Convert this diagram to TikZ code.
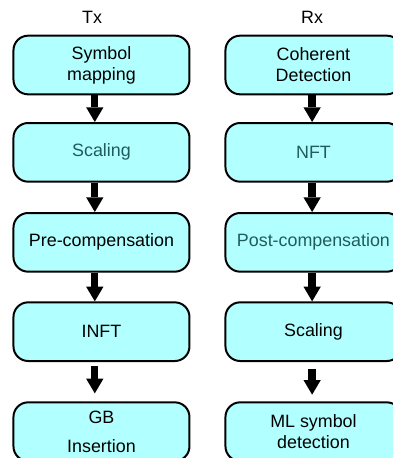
\documentclass[tikz,border=0pt]{standalone}
\usepackage{fontspec}
\setmainfont{Liberation Sans}
\usetikzlibrary{positioning, arrows.meta, shapes}
\definecolor{boxcyan}{RGB}{178,255,255}
\definecolor{darkteal}{RGB}{32,92,92}
\tikzset{
    cyannode/.style={rectangle, rounded corners=11pt, draw=black, fill=boxcyan, line width=1.5pt, minimum width=132pt, minimum height=44pt, inner sep=2pt, align=center, font=\fontsize{13.4}{15.75}\selectfont},
    myarrow/.style={-{Triangle[width=13pt, length=11pt, line width=0pt]}, line width=5.5pt},
    mytitle/.style={inner sep=0pt, font=\fontsize{13.4}{15.75}\selectfont}
}
\begin{document}
\begin{tikzpicture}
    \useasboundingbox (0,0) rectangle (294.75pt,-343.5pt);

        % ------------------
        % Tx nodes
        % ------------------

        \node[cyannode] (symbol) at (76.1pt,-48.75pt) {Symbol\\mapping};
        \node[mytitle, above=8pt of symbol, xshift=-7pt] (tx) {Tx};
        \node[cyannode, below=20pt of symbol, text=darkteal] (scaletx) {Scaling};
        \node[cyannode, below=22pt of scaletx] (precomp) {Pre-compensation};
        \node[cyannode, below=21.5pt of precomp] (inft) {INFT};
        \node[cyannode, below=29.5pt of inft] (gb) {GB\\[6pt]Insertion};

        % ------------------
        % Rx nodes
        % ------------------

        \node[cyannode, right=25.5pt of symbol] (coherent) {Coherent\\Detection};
        \node[mytitle, above=8pt of coherent, xshift=-1pt] (rx) {Rx};
        \node[cyannode, below=20pt of coherent, text=darkteal] (nft) {NFT};
        \node[cyannode, below=22pt of nft, text=darkteal] (postcomp) {Post-compensation};
        \node[cyannode, below=21.5pt of postcomp] (scalerx) {Scaling};
        \node[cyannode, below=29.5pt of scalerx] (mldet) {ML symbol\\detection};

        % ------------------
        % arrows
        % ------------------

        \draw[myarrow] ([xshift=-5pt]symbol.south) -- ([xshift=-5pt]scaletx.north);
        \draw[myarrow] ([xshift=-5pt]scaletx.south) -- ([xshift=-5pt]precomp.north);
        \draw[myarrow] ([xshift=-5pt]precomp.south) -- ([xshift=-5pt]inft.north);
        \draw[myarrow, shorten <=3pt, shorten >=6pt] ([xshift=-5pt]inft.south) -- ([xshift=-5pt]gb.north);

        \draw[myarrow] ([xshift=-1pt]coherent.south) -- ([xshift=-1pt]nft.north);
        \draw[myarrow] ([xshift=-1pt]nft.south) -- ([xshift=-1pt]postcomp.north);
        \draw[myarrow] ([xshift=-1pt]postcomp.south) -- ([xshift=-1pt]scalerx.north);
        \draw[myarrow, shorten <=5pt, shorten >=5pt] ([xshift=-1pt]scalerx.south) -- ([xshift=-1pt]mldet.north);

\end{tikzpicture}
\end{document}
